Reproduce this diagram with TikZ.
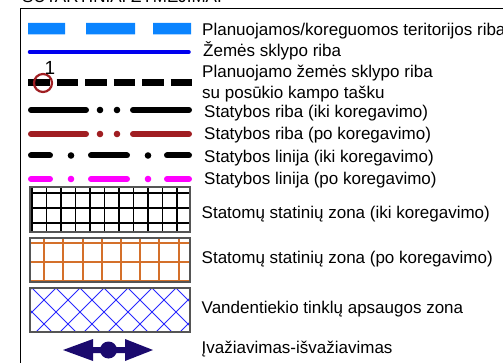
\documentclass[tikz,border=0pt]{standalone}
\usepackage{fontspec}
\setmainfont{Liberation Sans}
\definecolor{azure}{HTML}{0A84FF}
\definecolor{lineblue}{HTML}{0000EE}
\definecolor{dred}{HTML}{A01E22}
\definecolor{orangeg}{HTML}{D4702A}
\definecolor{hatchblue}{HTML}{2828FF}
\definecolor{navy}{HTML}{1B0A6E}
\definecolor{boxgrey}{HTML}{555555}
\definecolor{brightmag}{HTML}{FF00FF}
\tikzset{
  lbl/.style={anchor=base west,inner sep=0pt,font=\fontsize{17}{20}\selectfont},
  thickrule/.style={line width=6pt,line cap=round},
  dotmark/.style={circle,inner sep=0pt,minimum size=6.6pt},
  zonebox/.style={draw=boxgrey,line width=2pt},
}
\begin{document}
\begin{tikzpicture}[x=1pt,y=-1pt]
\useasboundingbox (0,0) rectangle (503,363);
\clip (0,0) rectangle (503,363);
% frame and heading
\draw[line width=1.5pt] (20.5,380) -- (20.5,8.5) -- (520,8.5);
\node[lbl] (title) at (22,3) {SUTARTINIAI ŽYMĖJIMAI};
% row 1
\fill[azure] (28,23) rectangle (65,34.5) (86,23) rectangle (135,34.5) (153,23) rectangle (191,34.5);
\node[lbl] (t1) at (202,35.5) {Planuojamos/koreguomos teritorijos riba};
% row 2
\draw[lineblue,line width=3.5pt,line cap=round] (29.5,52) -- (189,52);
\node[lbl] (t2) at (203,57) {Žemės sklypo riba};
% row 3
\draw[line width=7pt,dash pattern=on 21.7pt off 6.8pt] (28,83) -- (192,83);
\node[circle,draw=dred,line width=2.2pt,minimum size=18pt,inner sep=0pt] (pt) at (43,83) {};
\node[inner sep=0pt,font=\fontsize{19}{22}\selectfont] (pn) at (50,68) {1};
\node[lbl] (t3) at (202,77.5) {Planuojamo žemės sklypo riba};
\node[lbl] (t3b) at (202,99) {su posūkio kampo tašku};
% row 4
\draw[thickrule] (31,110) -- (86,110) (133,110) -- (189,110);
\node[dotmark,fill=black] (d4a) at (100,110) {};
\node[dotmark,fill=black] (d4b) at (117,110) {};
\node[lbl] (t4) at (204,118) {Statybos riba (iki koregavimo)};
% row 5
\draw[thickrule,dred] (31,134) -- (86,134) (133,134) -- (189,134);
\node[dotmark,fill=dred] (d5a) at (100,134) {};
\node[dotmark,fill=dred] (d5b) at (117,134) {};
\node[lbl] (t5) at (204,140) {Statybos riba (po koregavimo)};
% row 6
\draw[thickrule] (31,155.5) -- (50,155.5) (91,155.5) -- (127,155.5) (167,155.5) -- (189,155.5);
\node[dotmark,fill=black] (d6a) at (71,155.5) {};
\node[dotmark,fill=black] (d6b) at (148,155.5) {};
\node[lbl] (t6) at (204,162.5) {Statybos linija (iki koregavimo)};
% row 7
\draw[thickrule,brightmag] (31,179) -- (50,179) (91,179) -- (127,179) (167,179) -- (189,179);
\node[dotmark,fill=brightmag] (d7a) at (71,179) {};
\node[dotmark,fill=brightmag] (d7b) at (148,179) {};
\node[lbl] (t7) at (204,185) {Statybos linija (po koregavimo)};
% row 8
\begin{scope}
\clip (30,187) rectangle (190,232);
\foreach \x in {32,46.5,61,75.5,90,104.5,119,133.5,148,162.5,177} \draw[line width=1.3pt] (\x,187) -- (\x,232);
\foreach \y in {193,208,223} \draw[line width=1.3pt] (30,\y) -- (190,\y);
\end{scope}
\draw[zonebox] (30,187) rectangle (190,232);
\node[lbl] (t8) at (201.5,219) {Statomų statinių zona (iki koregavimo)};
% row 9
\begin{scope}
\clip (30,238) rectangle (190,282);
\foreach \x in {44,63,83,102,121,140,159,179} \draw[orangeg,line width=1.8pt] (\x,238) -- (\x,282);
\foreach \y in {243,262,281} \draw[orangeg,line width=1.8pt] (30,\y) -- (190,\y);
\end{scope}
\draw[zonebox] (30,238) rectangle (190,282);
\node[lbl] (t9) at (201.5,264) {Statomų statinių zona (po koregavimo)};
% row 10
\begin{scope}
\clip (30,288) rectangle (190,332);
\foreach \k in {-3,...,9} {
  \draw[hatchblue,line width=1pt] ({32+24*\k},288) -- ++(60,60);
  \draw[hatchblue,line width=1pt] ({32+24*\k},288) -- ++(-60,60);
}
\end{scope}
\draw[zonebox] (30,288) rectangle (190,332);
\node[lbl] (t10) at (201.5,313) {Vandentiekio tinklų apsaugos zona};
% row 11
\fill[navy] (63,350) -- (93,339) -- (93,347) -- (125,347) -- (125,339) -- (153,350) -- (125,361) -- (125,353) -- (93,353) -- (93,361) -- cycle;
\node[circle,fill=navy,minimum size=17pt,inner sep=0pt] (hub) at (108.5,350) {};
\node[lbl] (t11) at (201.5,353.5) {Įvažiavimas-išvažiavimas};
\end{tikzpicture}
\end{document}
